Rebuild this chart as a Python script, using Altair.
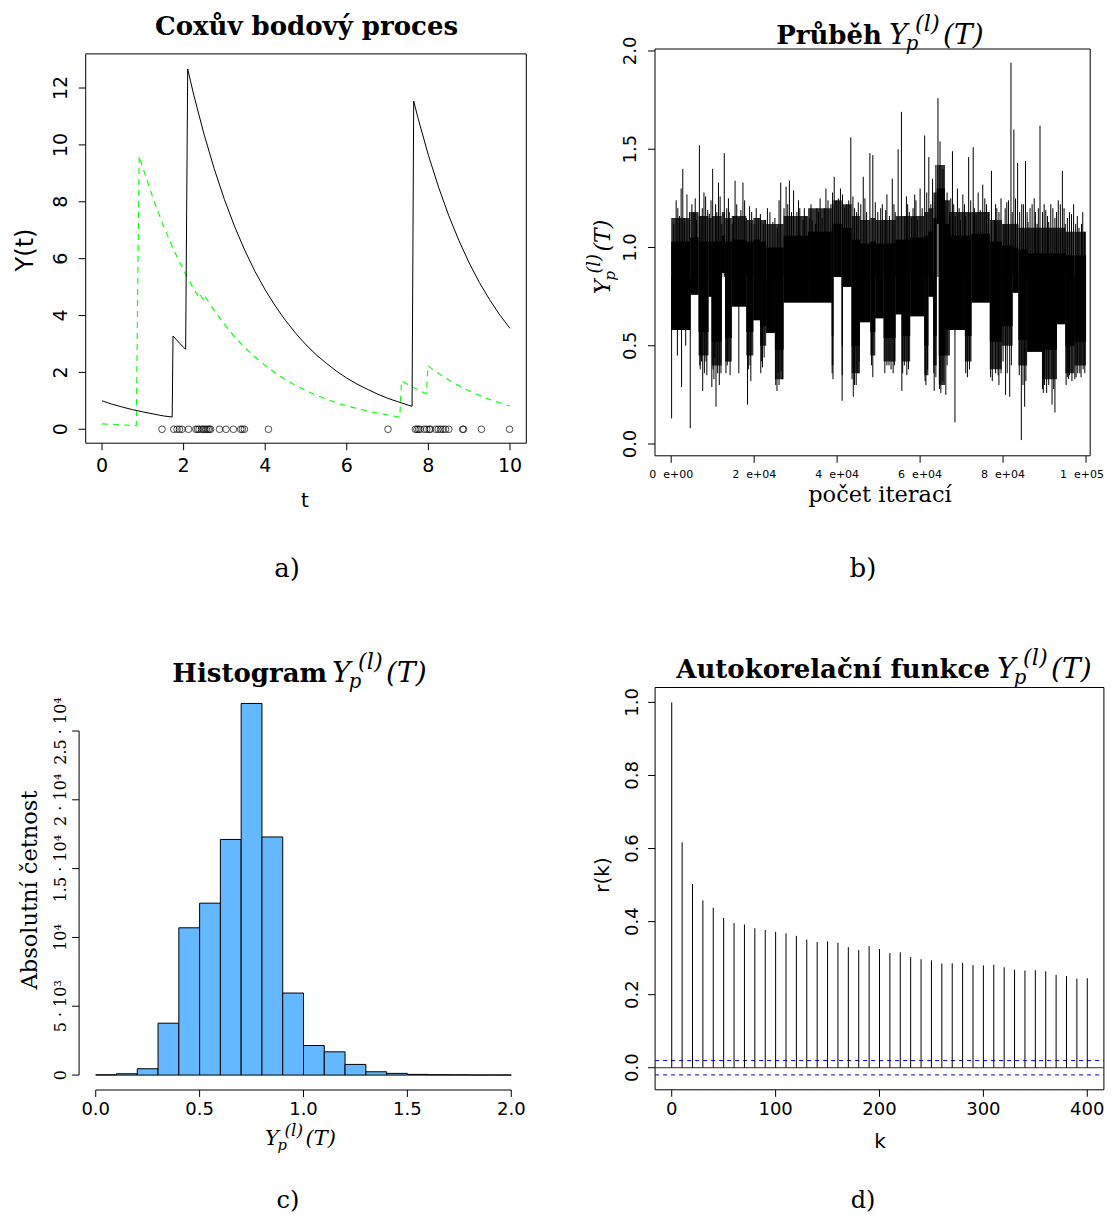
import altair as alt
import pandas as pd

W, H = 1097, 1208
M = 8


def cx(v):
    return v - M


# ---------------- (a) Coxův bodový proces ----------------
a_black_t = [0.0, 0.25, 0.5, 0.75, 1.0, 1.25, 1.5, 1.72, 1.74, 1.9, 2.05, 2.10, 2.25, 2.5, 2.75, 3.0,
             3.25, 3.5, 3.75, 4.0, 4.25, 4.5, 4.75, 5.0, 5.25, 5.5, 5.75, 6.0, 6.25, 6.5, 6.75, 7.0,
             7.25, 7.5, 7.6, 7.64, 7.75, 8.0, 8.25, 8.5, 8.75, 9.0, 9.25, 9.5, 9.75, 10.0]
a_black_y = [1.00, 0.88, 0.78, 0.69, 0.61, 0.54, 0.47, 0.43, 3.28, 3.03, 2.81, 12.67, 11.75, 10.38, 9.16, 8.08,
             7.13, 6.29, 5.55, 4.90, 4.33, 3.82, 3.37, 2.97, 2.62, 2.32, 2.04, 1.80, 1.59, 1.41, 1.24, 1.09,
             0.97, 0.85, 0.81, 11.54, 10.92, 9.64, 8.51, 7.51, 6.63, 5.85, 5.16, 4.56, 4.02, 3.55]
a_green_t = [0.0, 0.25, 0.5, 0.84, 0.91, 1.0, 1.25, 1.5, 1.75, 2.0, 2.2, 2.34, 2.37, 2.50, 2.53, 2.75,
             3.0, 3.25, 3.5, 3.75, 4.0, 4.25, 4.5, 4.75, 5.0, 5.25, 5.5, 5.75, 6.0, 6.25, 6.5, 6.75,
             7.0, 7.30, 7.34, 7.5, 7.75, 7.95, 7.99, 8.25, 8.5, 8.75, 9.0, 9.25, 9.5, 9.75, 10.0]
a_green_y = [0.19, 0.17, 0.15, 0.13, 9.62, 9.20, 8.13, 7.17, 6.33, 5.59, 5.06, 4.72, 4.82, 4.52, 4.66, 4.18,
             3.69, 3.25, 2.87, 2.54, 2.24, 1.98, 1.74, 1.54, 1.36, 1.20, 1.06, 0.93, 0.82, 0.73, 0.64, 0.57,
             0.50, 0.43, 1.70, 1.57, 1.38, 1.25, 2.23, 1.96, 1.73, 1.53, 1.35, 1.19, 1.05, 0.93, 0.82]
a_events = [1.47, 1.76, 1.84, 1.90, 1.96, 2.12, 2.30, 2.34, 2.38, 2.44, 2.48, 2.52, 2.56, 2.60, 2.63, 2.66,
            2.88, 3.04, 3.22, 3.40, 3.44, 3.49, 4.08,
            7.01, 7.68, 7.72, 7.76, 7.80, 7.90, 7.96, 8.02, 8.05, 8.18, 8.24, 8.30, 8.36, 8.42, 8.50,
            8.84, 8.86, 9.30, 9.99]
a_xticks = [0, 2, 4, 6, 8, 10]
a_xlabels = ["0", "2", "4", "6", "8", "10"]
a_yticks = [0, 2, 4, 6, 8, 10, 12]
a_ylabels = ["0", "2", "4", "6", "8", "10", "12"]

# ---------------- (b) Průběh (iterations in thousands) ----------------
b_seg_start = [0, 4.6, 6.6, 9.0, 9.8, 12.2, 13.0, 14.6, 18.1, 19.8, 21.4, 22.9, 25.0, 27.1, 33.0,
               38.7, 39.1, 41.1, 41.4, 43.5, 45.5, 48.0, 49.2, 51.2, 54.1, 55.6, 57.6, 61.0, 62.0,
               63.2, 64.0, 64.5, 66.0, 67.2, 70.8, 72.4, 76.8, 79.7, 82.3, 83.7, 85.8, 89.4, 93.0,
               95.0, 97.2]
b_seg_end = b_seg_start[1:] + [100.0]
b_outer_lo = [0.58, 0.76, 0.45, 0.75, 0.40, 0.87, 0.42, 0.70, 0.45, 0.63, 0.50, 0.565, 0.33, 0.72, 0.72,
              0.40, 0.85, 0.35, 0.80, 0.36, 0.62, 0.45, 0.64, 0.42, 0.66, 0.42, 0.65, 0.35, 0.75,
              0.40, 1.12, 0.30, 0.45, 0.58, 0.42, 0.72, 0.38, 0.50, 0.77, 0.40, 0.47, 0.33, 0.61,
              0.36, 0.40]
b_core_lo = [0.58, 0.76, 0.57, 0.75, 0.52, 0.87, 0.54, 0.70, 0.57, 0.63, 0.60, 0.565, 0.48, 0.72, 0.72,
             0.55, 0.85, 0.50, 0.80, 0.50, 0.62, 0.57, 0.64, 0.54, 0.66, 0.55, 0.65, 0.50, 0.75,
             0.55, 1.12, 0.45, 0.58, 0.58, 0.55, 0.72, 0.52, 0.60, 0.77, 0.53, 0.47, 0.48, 0.61,
             0.50, 0.52]
b_core_hi = [1.03, 1.05, 1.03, 1.03, 1.03, 1.06, 1.03, 1.04, 1.03, 1.04, 1.03, 1.00, 1.00, 1.06, 1.08,
             1.10, 1.12, 1.10, 1.10, 1.04, 1.02, 1.03, 1.02, 1.02, 1.04, 1.04, 1.05, 1.06, 1.08,
             1.15, 1.30, 1.30, 1.12, 1.06, 1.06, 1.07, 1.03, 1.01, 1.00, 0.99, 0.97, 0.97, 0.97,
             0.96, 0.96]
b_outer_hi = [1.15, 1.18, 1.16, 1.15, 1.16, 1.18, 1.15, 1.16, 1.14, 1.15, 1.14, 1.12, 1.12, 1.16, 1.20,
              1.22, 1.24, 1.22, 1.22, 1.16, 1.14, 1.15, 1.14, 1.14, 1.16, 1.16, 1.16, 1.18, 1.20,
              1.28, 1.42, 1.42, 1.24, 1.18, 1.18, 1.18, 1.14, 1.12, 1.12, 1.10, 1.10, 1.10, 1.10,
              1.08, 1.08]
b_up_k = [1.2, 2.0, 2.8, 3.8, 4.4, 5.5, 6.1, 6.8, 7.5, 8.3, 9.2, 10.0, 10.7, 11.4, 12.2, 12.8, 14.0,
          14.7, 15.4, 16.3, 17.3, 18.1, 18.9, 20.0, 21.0, 22.2, 23.2, 24.5, 25.6, 26.4, 27.7, 28.5,
          29.5, 30.3, 31.0, 31.8, 32.5, 33.3, 34.0, 34.8, 35.5, 36.4, 37.3, 38.5, 39.3, 40.3, 41.3,
          42.3, 43.3, 44.2, 45.1, 46.3, 47.1, 47.9, 48.6, 49.2, 50.5, 51.3, 52.0, 53.3, 54.0, 54.7,
          55.5, 56.3, 57.0, 57.9, 58.7, 59.4, 60.0, 61.1, 62.1, 63.0, 63.8, 64.3, 64.8, 65.5, 66.5,
          67.1, 67.8, 68.5, 69.0, 69.7, 70.3, 71.0, 71.7, 72.8, 73.5, 74.0, 75.1, 76.0, 77.2, 77.9,
          78.5, 79.5, 80.2, 80.9, 81.9, 82.6, 83.5, 84.5, 85.4, 86.0, 86.5, 87.5, 88.2, 88.9, 89.5,
          90.3, 91.0, 91.5, 92.5, 93.3, 94.3, 95.0, 95.5, 96.5, 97.5, 98.3, 98.9, 99.6]
b_up_v = [1.24, 1.16, 1.40, 1.27, 1.18, 1.18, 1.14, 1.52, 1.20, 1.26, 1.17, 1.40, 1.22, 1.33, 1.12, 1.48, 1.18,
          1.12, 1.34, 1.15, 1.33, 1.15, 1.21, 1.12, 1.15, 1.12, 1.20, 1.13, 1.10, 1.33, 1.31, 1.34,
          1.29, 1.18, 1.20, 1.14, 1.16, 1.15, 1.14, 1.12, 1.18, 1.15, 1.30, 1.22, 1.36, 1.25, 1.27,
          1.22, 1.56, 1.20, 1.23, 1.36, 1.18, 1.48, 1.47, 1.23, 1.20, 1.14, 1.27, 1.35, 1.18, 1.50,
          1.69, 1.16, 1.22, 1.15, 1.27, 1.14, 1.30, 1.57, 1.46, 1.35, 1.42, 1.76, 1.54, 1.40, 1.28,
          1.18, 1.49, 1.16, 1.30, 1.14, 1.27, 1.16, 1.46, 1.51, 1.17, 1.28, 1.32, 1.22, 1.39, 1.14,
          1.20, 1.25, 1.12, 1.23, 1.94, 1.60, 1.43, 1.22, 1.44, 1.13, 1.20, 1.25, 1.12, 1.62, 1.18,
          1.19, 1.13, 1.22, 1.15, 1.24, 1.39, 1.12, 1.15, 1.17, 1.12, 1.10, 1.12, 1.08]
b_up2_k = [0.6, 1.6, 2.4, 3.2, 5.0, 5.8, 7.2, 7.9, 8.8, 9.6, 11.0, 11.8, 13.4, 13.8, 15.0, 15.8, 16.8,
           17.7, 19.4, 20.5, 21.5, 22.7, 23.8, 25.0, 26.0, 27.2, 28.1, 29.0, 30.7, 32.1, 33.7, 35.1,
           35.9, 36.9, 37.8, 38.9, 39.8, 40.8, 41.8, 42.8, 43.8, 44.7, 45.7, 46.7, 49.8, 50.9, 51.7,
           52.6, 53.7, 56.7, 57.4, 58.3, 59.0, 60.5, 61.6, 62.6, 65.1, 66.0, 67.4, 68.1, 69.4, 70.7,
           72.2, 73.1, 74.5, 75.6, 76.5, 78.2, 79.0, 80.5, 81.3, 82.2, 83.0, 84.0, 84.9, 85.8, 87.0,
           87.8, 88.5, 89.9, 90.7, 92.0, 92.9, 93.8, 94.7, 96.0, 97.0, 97.9, 99.2]
b_up2_v = [1.12, 1.20, 1.30, 1.15, 1.22, 1.25, 1.16, 1.28, 1.19, 1.24, 1.18, 1.26, 1.20, 1.25, 1.16, 1.22, 1.19,
           1.24, 1.18, 1.20, 1.17, 1.14, 1.18, 1.15, 1.24, 1.20, 1.22, 1.18, 1.24, 1.20, 1.22, 1.20,
           1.25, 1.20, 1.24, 1.28, 1.24, 1.30, 1.20, 1.24, 1.26, 1.18, 1.22, 1.25, 1.18, 1.22, 1.19,
           1.16, 1.22, 1.26, 1.18, 1.20, 1.24, 1.20, 1.28, 1.22, 1.30, 1.24, 1.25, 1.22, 1.20, 1.22,
           1.24, 1.20, 1.19, 1.25, 1.18, 1.22, 1.18, 1.20, 1.24, 1.18, 1.25, 1.18, 1.22, 1.18, 1.22,
           1.18, 1.20, 1.22, 1.16, 1.20, 1.18, 1.22, 1.20, 1.18, 1.22, 1.16, 1.18]
b_dn_k = [0.1, 1.5, 2.5, 3.5, 4.6, 7.0, 7.6, 8.6, 9.8, 10.3, 10.8, 11.6, 12.0, 13.5, 14.2, 16.3, 18.4,
          19.2, 21.6, 22.0, 25.5, 26.0, 26.5, 39.0, 41.2, 43.9, 44.6, 45.0, 48.6, 52.5, 53.5, 55.6,
          56.8, 61.4, 63.4, 65.0, 66.2, 68.4, 71.4, 77.4, 78.2, 79.0, 80.6, 81.6, 84.4, 85.2, 89.5,
          90.5, 92.5, 95.5, 96.0, 97.3, 98.5, 99.3]
b_dn_v = [0.13, 0.45, 0.29, 0.50, 0.08, 0.38, 0.27, 0.35, 0.29, 0.33, 0.19, 0.30, 0.36, 0.40, 0.35, 0.36, 0.20,
          0.32, 0.36, 0.39, 0.27, 0.30, 0.37, 0.33, 0.22, 0.24, 0.30, 0.36, 0.34, 0.40, 0.36, 0.27,
          0.35, 0.30, 0.27, 0.26, 0.25, 0.11, 0.34, 0.32, 0.36, 0.30, 0.25, 0.24, 0.02, 0.19, 0.28,
          0.26, 0.16, 0.34, 0.35, 0.33, 0.36, 0.38]
b_dn2_k = [6.9, 7.3, 8.0, 8.4, 10.1, 10.5, 11.2, 13.2, 13.7, 18.6, 19.0, 21.8, 22.4, 25.2, 25.8, 26.8,
           38.8, 43.6, 44.2, 45.3, 48.3, 51.5, 52.0, 53.0, 53.8, 55.8, 56.2, 57.2, 61.2, 61.8, 63.3,
           63.8, 64.7, 65.5, 66.5, 71.0, 71.9, 77.0, 78.8, 79.5, 80.0, 81.0, 82.0, 83.9, 84.8, 85.5,
           89.7, 90.0, 91.0, 91.8, 92.2, 95.2, 95.8, 96.6, 97.6, 98.0, 98.8, 99.7]
b_dn2_v = [0.40, 0.42, 0.36, 0.42, 0.38, 0.44, 0.36, 0.36, 0.42, 0.38, 0.40, 0.42, 0.44, 0.30, 0.36, 0.33,
           0.36, 0.33, 0.30, 0.42, 0.40, 0.36, 0.40, 0.38, 0.40, 0.36, 0.40, 0.38, 0.32, 0.38, 0.36,
           0.34, 0.28, 0.32, 0.40, 0.36, 0.38, 0.34, 0.35, 0.36, 0.42, 0.36, 0.40, 0.35, 0.30, 0.32,
           0.26, 0.30, 0.30, 0.20, 0.28, 0.30, 0.33, 0.32, 0.34, 0.36, 0.34, 0.36]
b_xticks = [0, 20, 40, 60, 80, 100]
b_xlabels = ["0\u00a0\u00a0e+00", "2\u00a0\u00a0e+04", "4\u00a0\u00a0e+04", "6\u00a0\u00a0e+04",
             "8\u00a0\u00a0e+04", "1\u00a0\u00a0e+05"]
b_yticks = [0.0, 0.5, 1.0, 1.5, 2.0]
b_ylabels = ["0.0", "0.5", "1.0", "1.5", "2.0"]

# ---------------- (c) Histogram ----------------
c_bin_left = [0.0, 0.1, 0.2, 0.3, 0.4, 0.5, 0.6, 0.7, 0.8, 0.9, 1.0, 1.1, 1.2, 1.3, 1.4, 1.5, 1.6, 1.7, 1.8, 1.9]
c_bin_right = [0.1, 0.2, 0.3, 0.4, 0.5, 0.6, 0.7, 0.8, 0.9, 1.0, 1.1, 1.2, 1.3, 1.4, 1.5, 1.6, 1.7, 1.8, 1.9, 2.0]
c_counts = [20, 95, 460, 3770, 10700, 12490, 17120, 27000, 17300, 5960, 2150, 1690, 775, 240, 123, 50,
            25, 20, 10, 10]
c_xticks = [0.0, 0.5, 1.0, 1.5, 2.0]
c_xlabels = ["0.0", "0.5", "1.0", "1.5", "2.0"]
c_yticks = [0, 5000, 10000, 15000, 20000, 25000]
c_ylabels = ["0", "5 · 10³", "10⁴", "1.5 · 10⁴", "2 · 10⁴", "2.5 · 10⁴"]

# ---------------- (d) ACF ----------------
d_lag = [0, 10, 20, 30, 40, 50, 60, 70, 80, 90, 100, 110, 120, 130, 140, 150, 160, 170, 180, 190, 200,
         210, 220, 230, 240, 250, 260, 270, 280, 290, 300, 310, 320, 330, 340, 350, 360, 370, 380, 390, 400]
d_acf = [1.0, 0.617, 0.503, 0.458, 0.438, 0.410, 0.396, 0.392, 0.382, 0.377, 0.372, 0.368, 0.361, 0.351,
         0.344, 0.346, 0.342, 0.330, 0.322, 0.333, 0.325, 0.314, 0.316, 0.303, 0.297, 0.294, 0.285, 0.286,
         0.287, 0.281, 0.280, 0.282, 0.275, 0.268, 0.266, 0.267, 0.264, 0.254, 0.251, 0.244, 0.245]
d_ci = 0.0196
d_xticks = [0, 100, 200, 300, 400]
d_xlabels = ["0", "100", "200", "300", "400"]
d_yticks = [0.0, 0.2, 0.4, 0.6, 0.8, 1.0]
d_ylabels = ["0.0", "0.2", "0.4", "0.6", "0.8", "1.0"]


# ---------------- helpers ----------------
def sc(dom, rng):
    return alt.Scale(domain=list(dom), range=[cx(rng[0]), cx(rng[1])], nice=False, zero=False)


def x_axis(values, labels, xs, line_px, lab_px, size, font="DejaVu Sans", last_dx=None):
    df = pd.DataFrame({"v": values, "lab": labels})
    ticks = alt.Chart(df).mark_rule(color="black", strokeWidth=1).encode(
        x=alt.X("v:Q", scale=xs, axis=None), y=alt.value(cx(line_px)), y2=alt.value(cx(line_px + 7)))
    main = df if last_dx is None else df.iloc[:-1]
    layers = [ticks, alt.Chart(main).mark_text(fontSize=size, font=font, align="center", baseline="middle",
                                               color="black").encode(
        x=alt.X("v:Q", scale=xs, axis=None), y=alt.value(cx(lab_px)), text="lab:N")]
    if last_dx is not None:
        layers.append(alt.Chart(df.iloc[-1:]).mark_text(fontSize=size, font=font, align="right",
                                                        baseline="middle", dx=last_dx, color="black").encode(
            x=alt.X("v:Q", scale=xs, axis=None), y=alt.value(cx(lab_px)), text="lab:N"))
    return layers


def y_axis(values, labels, ys, line_px, lab_px, size, font="DejaVu Sans"):
    df = pd.DataFrame({"v": values, "lab": labels})
    ticks = alt.Chart(df).mark_rule(color="black", strokeWidth=1).encode(
        y=alt.Y("v:Q", scale=ys, axis=None), x=alt.value(cx(line_px)), x2=alt.value(cx(line_px - 7)))
    labs = alt.Chart(df).mark_text(fontSize=size, font=font, align="center", baseline="alphabetic",
                                   angle=270, color="black").encode(
        y=alt.Y("v:Q", scale=ys, axis=None), x=alt.value(cx(lab_px)), text="lab:N")
    return [ticks, labs]


ONE = pd.DataFrame({"k": [0]})


def txt(s, x, y, size, font="DejaVu Sans", weight="normal", style="normal", align="center",
        baseline="alphabetic", angle=0, color="black"):
    props = dict(text=s, fontSize=size, font=font, fontWeight=weight, fontStyle=style,
                 align=align, baseline=baseline, color=color)
    if angle:
        props["angle"] = angle
    return alt.Chart(ONE).mark_text(**props).encode(x=alt.value(cx(x)), y=alt.value(cx(y)))


def math_y(x, y, s, angle=0):
    pieces = [("Y", 0.0, 0.0, s), ("p", 0.60 * s, 0.22 * s, 0.70 * s),
              ("(l)", 0.93 * s, -0.45 * s, 0.80 * s), ("(T)", 1.93 * s, 0.0, s)]
    out = []
    for t, along, perp, size in pieces:
        if angle == 0:
            px, py = x + along, y + perp
        else:
            px, py = x + perp, y - along
        out.append(txt(t, px, py, size, font="DejaVu Serif", style="italic", align="left",
                       baseline="alphabetic", angle=angle))
    return out


def frame(xd, yd, xs, ys):
    df = pd.DataFrame({"x0": [xd[0]], "x1": [xd[1]], "y0": [yd[0]], "y1": [yd[1]]})
    return alt.Chart(df).mark_rect(fillOpacity=0, stroke="black", strokeWidth=1).encode(
        x=alt.X("x0:Q", scale=xs, axis=None), x2="x1:Q",
        y=alt.Y("y0:Q", scale=ys, axis=None), y2="y1:Q")


# ---------------- panel a ----------------
A_XD, A_XR = [-0.4, 10.4], [85.7, 526.3]
A_YD, A_YR = [-0.49, 13.2], [443.2, 53.9]
ax_s, ay_s = sc(A_XD, A_XR), sc(A_YD, A_YR)

df_black = pd.DataFrame({"t": a_black_t, "y": a_black_y, "i": list(range(len(a_black_t)))})
df_green = pd.DataFrame({"t": a_green_t, "y": a_green_y, "i": list(range(len(a_green_t)))})
df_ev = pd.DataFrame({"t": a_events, "y": [0.0] * len(a_events)})

a_green = alt.Chart(df_green).mark_line(color="#00FF00", strokeWidth=1.1, strokeDash=[6, 5]).encode(
    x=alt.X("t:Q", scale=ax_s, axis=None), y=alt.Y("y:Q", scale=ay_s, axis=None), order="i:Q")
a_black = alt.Chart(df_black).mark_line(color="black", strokeWidth=1).encode(
    x=alt.X("t:Q", scale=ax_s, axis=None), y=alt.Y("y:Q", scale=ay_s, axis=None), order="i:Q")
a_pts = alt.Chart(df_ev).mark_point(shape="circle", filled=False, color="black", size=44, strokeWidth=1).encode(
    x=alt.X("t:Q", scale=ax_s, axis=None), y=alt.Y("y:Q", scale=ay_s, axis=None))
panel_a = alt.layer(frame(A_XD, A_YD, ax_s, ay_s), a_green, a_black, a_pts,
                    *x_axis(a_xticks, a_xlabels, ax_s, A_YR[0], 466, 19),
                    *y_axis(a_yticks, a_ylabels, ay_s, A_XR[0], 67, 19))

# ---------------- panel b ----------------
B_XD, B_XR = [-3.9, 101.0], [655.0, 1090.2]
B_YD, B_YR = [-0.06, 2.01], [455.8, 49.0]
bx_s, by_s = sc(B_XD, B_XR), sc(B_YD, B_YR)

df_seg = pd.DataFrame({"s": b_seg_start, "e": b_seg_end, "olo": b_outer_lo, "clo": b_core_lo,
                       "chi": b_core_hi, "ohi": b_outer_hi})
df_up = pd.DataFrame({"k": b_up_k + b_up2_k, "v": b_up_v + b_up2_v})
df_up["base"] = 0.85
df_dn = pd.DataFrame({"k": b_dn_k + b_dn2_k, "v": b_dn_v + b_dn2_v})
df_dn["base"] = 0.85

b_outer = alt.Chart(df_seg).mark_rect(color="black", opacity=0.8).encode(
    x=alt.X("s:Q", scale=bx_s, axis=None), x2="e:Q",
    y=alt.Y("olo:Q", scale=by_s, axis=None), y2="ohi:Q")
b_core = alt.Chart(df_seg).mark_rect(color="black").encode(
    x=alt.X("s:Q", scale=bx_s, axis=None), x2="e:Q",
    y=alt.Y("clo:Q", scale=by_s, axis=None), y2="chi:Q")
b_up = alt.Chart(df_up).mark_rule(color="black", strokeWidth=1).encode(
    x=alt.X("k:Q", scale=bx_s, axis=None), y=alt.Y("base:Q", scale=by_s, axis=None), y2="v:Q")
b_dn = alt.Chart(df_dn).mark_rule(color="black", strokeWidth=1).encode(
    x=alt.X("k:Q", scale=bx_s, axis=None), y=alt.Y("base:Q", scale=by_s, axis=None), y2="v:Q")
panel_b = alt.layer(frame(B_XD, B_YD, bx_s, by_s), b_outer, b_core, b_up, b_dn,
                    *x_axis(b_xticks, b_xlabels, bx_s, B_YR[0], 475, 11, last_dx=18),
                    *y_axis(b_yticks, b_ylabels, by_s, B_XR[0], 636, 18))

# ---------------- panel c ----------------
C_XD, C_XR = [-0.08, 2.08], [79.1, 527.9]
C_YD, C_YR = [-1084, 28174], [1090.0, 687.3]
cxs, cys = sc(C_XD, C_XR), sc(C_YD, C_YR)

df_hist = pd.DataFrame({"l": c_bin_left, "r": c_bin_right, "n": c_counts, "z": [0] * len(c_counts)})
c_bars = alt.Chart(df_hist).mark_rect(fill="#63B8FF", stroke="black", strokeWidth=1).encode(
    x=alt.X("l:Q", scale=cxs, axis=None), x2="r:Q",
    y=alt.Y("z:Q", scale=cys, axis=None), y2="n:Q")
df_cx_line = pd.DataFrame({"a": [c_xticks[0]], "b": [c_xticks[-1]], "y": [C_YD[0]]})
df_cy_line = pd.DataFrame({"x": [C_XD[0]], "a": [c_yticks[0]], "b": [c_yticks[-1]]})
c_xline = alt.Chart(df_cx_line).mark_rule(color="black", strokeWidth=1).encode(
    x=alt.X("a:Q", scale=cxs, axis=None), x2="b:Q", y=alt.Y("y:Q", scale=cys, axis=None))
c_yline = alt.Chart(df_cy_line).mark_rule(color="black", strokeWidth=1).encode(
    x=alt.X("x:Q", scale=cxs, axis=None), y=alt.Y("a:Q", scale=cys, axis=None), y2="b:Q")
panel_c = alt.layer(c_bars, c_xline, c_yline,
                    *x_axis(c_xticks, c_xlabels, cxs, C_YR[0], 1110, 18),
                    *y_axis(c_yticks, c_ylabels, cys, C_XR[0], 66, 16, font="DejaVu Serif"))

# ---------------- panel d ----------------
D_XD, D_XR = [-16, 416], [655.1, 1103.9]
D_YD, D_YR = [-0.0604, 1.0408], [1089.8, 687.5]
dxs, dys = sc(D_XD, D_XR), sc(D_YD, D_YR)

df_acf = pd.DataFrame({"k": d_lag, "r": d_acf, "z": [0.0] * len(d_lag)})
df_zero = pd.DataFrame({"a": [D_XD[0]], "b": [D_XD[1]], "y": [0.0]})
df_ci = pd.DataFrame({"a": [D_XD[0]] * 2, "b": [D_XD[1]] * 2, "y": [d_ci, -d_ci]})
d_bars = alt.Chart(df_acf).mark_rule(color="black", strokeWidth=1).encode(
    x=alt.X("k:Q", scale=dxs, axis=None), y=alt.Y("z:Q", scale=dys, axis=None), y2="r:Q")
d_zero = alt.Chart(df_zero).mark_rule(color="#333333", strokeWidth=1).encode(
    x=alt.X("a:Q", scale=dxs, axis=None), x2="b:Q", y=alt.Y("y:Q", scale=dys, axis=None))
d_ci_l = alt.Chart(df_ci).mark_rule(color="#0000FF", strokeWidth=1, strokeDash=[4, 4]).encode(
    x=alt.X("a:Q", scale=dxs, axis=None), x2="b:Q", y=alt.Y("y:Q", scale=dys, axis=None))
panel_d = alt.layer(frame(D_XD, D_YD, dxs, dys), d_zero, d_ci_l, d_bars,
                    *x_axis(d_xticks, d_xlabels, dxs, D_YR[0], 1110, 18),
                    *y_axis(d_yticks, d_ylabels, dys, D_XR[0], 638, 18))

# ---------------- texts ----------------
SERIF = "DejaVu Serif"
texts = [
    txt("Coxův bodový proces", 306.5, 35, 26, font=SERIF, weight="bold"),
    txt("Y(t)", 26, 250, 24, angle=270, baseline="middle"),
    txt("t", 305, 501, 20, baseline="middle"),
    txt("a)", 287, 577, 26, font=SERIF),

    txt("Průběh", 882, 44, 26, font=SERIF, weight="bold", align="right"),
    *math_y(889, 44, 28),
    *math_y(610, 294, 22, angle=270),
    txt("počet iterací", 880, 502, 22.5, font=SERIF),
    txt("b)", 863, 577, 26, font=SERIF),

    txt("Histogram", 327, 682, 26, font=SERIF, weight="bold", align="right"),
    *math_y(332, 682, 28),
    txt("Absolutní četnost", 37, 890, 22.5, font=SERIF, angle=270),
    *math_y(265, 1145, 21),
    txt("c)", 288, 1208, 24, font=SERIF),

    txt("Autokorelační funkce", 990, 678, 26, font=SERIF, weight="bold", align="right"),
    *math_y(997, 678, 28),
    txt("r(k)", 603, 875, 20, angle=270, baseline="middle"),
    txt("k", 880, 1142, 20, baseline="middle"),
    txt("d)", 863, 1208, 24, font=SERIF),
]

chart = alt.layer(panel_a, panel_b, panel_c, panel_d, *texts).resolve_scale(
    x="independent", y="independent").properties(
    width=W, height=H, padding=0, autosize=alt.AutoSizeParams(type="none")).configure_view(
    strokeWidth=0)

chart.save("out.html", embed_options={"renderer": "svg", "actions": False})
